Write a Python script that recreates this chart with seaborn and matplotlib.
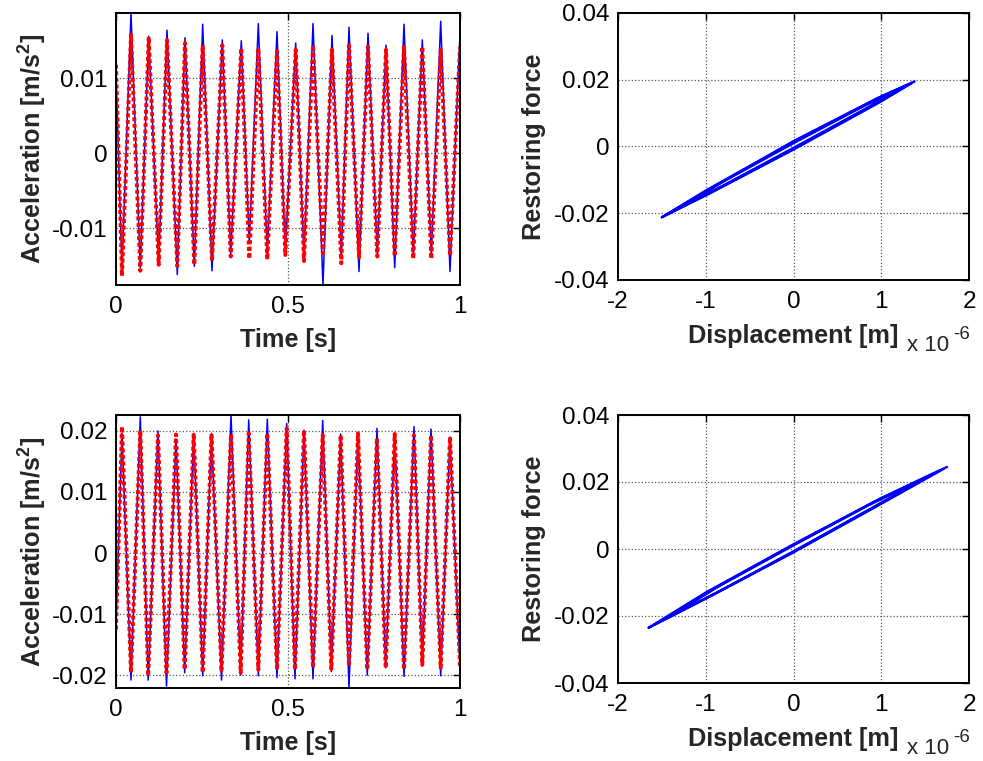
import numpy as np
import pandas as pd
import matplotlib
matplotlib.use("Agg")
import matplotlib.pyplot as plt
import seaborn as sns
from matplotlib.ticker import FuncFormatter

# ---------------- record 1: acceleration extrema ----------------
t1 = [0.0, 0.0174, 0.0436, 0.0706, 0.0951, 0.1241, 0.1483, 0.1782, 0.2006, 0.2276,
      0.2520, 0.2791, 0.3090, 0.3334, 0.3642, 0.3875, 0.4137, 0.4398, 0.4680, 0.4922,
      0.5224, 0.5465, 0.5727, 0.6017, 0.6279, 0.6549, 0.6773, 0.7064, 0.7326, 0.7596,
      0.7849, 0.8102, 0.8372, 0.8642, 0.8904, 0.9166, 0.9439, 0.9709, 1.0]
acc1_measured = [0.0110, -0.0157, 0.0187, -0.0153, 0.0156, -0.0147, 0.0164, -0.0162, 0.0154, -0.0151,
                 0.0172, -0.0157, 0.0151, -0.0135, 0.0150, -0.0120, 0.0173, -0.0135, 0.0162, -0.0133,
                 0.0147, -0.0140, 0.0173, -0.0176, 0.0157, -0.0140, 0.0168, -0.0158, 0.0160, -0.0135,
                 0.0144, -0.0153, 0.0172, -0.0138, 0.0151, -0.0135, 0.0176, -0.0158, 0.0160]
acc1_model = [0.0118, -0.0164, 0.0158, -0.0157, 0.0155, -0.0149, 0.0151, -0.0151, 0.0147, -0.0149,
              0.0144, -0.0144, 0.0144, -0.0138, 0.0140, -0.0141, 0.0140, -0.0142, 0.0136, -0.0136,
              0.0138, -0.0144, 0.0144, -0.0138, 0.0138, -0.0147, 0.0144, -0.0139, 0.0142, -0.0138,
              0.0138, -0.0138, 0.0142, -0.0141, 0.0142, -0.0141, 0.0138, -0.0137, 0.0142]

# ---------------- record 2: acceleration extrema ----------------
t2 = [0.0, 0.0174, 0.0436, 0.0706, 0.0936, 0.1221, 0.1468, 0.1744, 0.1997, 0.2259,
      0.2520, 0.2776, 0.3067, 0.3343, 0.3625, 0.3858, 0.4137, 0.4398, 0.4680, 0.4962,
      0.5203, 0.5465, 0.5727, 0.6009, 0.6259, 0.6532, 0.6773, 0.7035, 0.7305, 0.7587,
      0.7840, 0.8102, 0.8372, 0.8663, 0.8904, 0.9157, 0.9439, 0.9709, 1.0]
acc2_measured = [-0.0120, 0.0196, -0.0208, 0.0223, -0.0208, 0.0200, -0.0218, 0.0187, -0.0196, 0.0196,
                 -0.0201, 0.0196, -0.0208, 0.0226, -0.0200, 0.0218, -0.0201, 0.0219, -0.0204, 0.0212,
                 -0.0206, 0.0201, -0.0206, 0.0217, -0.0194, 0.0195, -0.0221, 0.0196, -0.0200, 0.0204,
                 -0.0188, 0.0196, -0.0202, 0.0207, -0.0185, 0.0203, -0.0201, 0.0190, -0.0190]
acc2_model = [-0.0125, 0.0207, -0.0196, 0.0201, -0.0201, 0.0193, -0.0196, 0.0194, -0.0191, 0.0196,
              -0.0196, 0.0195, -0.0194, 0.0195, -0.0196, 0.0196, -0.0191, 0.0196, -0.0191, 0.0204,
              -0.0191, 0.0201, -0.0188, 0.0193, -0.0190, 0.0193, -0.0185, 0.0196, -0.0191, 0.0188,
              -0.0188, 0.0195, -0.0191, 0.0193, -0.0183, 0.0193, -0.0188, 0.0190, -0.0185]

# ---------------- hysteresis loops (displacement in 1e-6 m) ----------------
loops1_disp = [
    [-1.50, -1.00, 0.00, 1.00, 1.38, 1.00, 0.00, -1.00, -1.50],
    [-1.46, -0.95, 0.00, 0.95, 1.35, 0.95, 0.00, -0.95, -1.46],
    [-1.42, -0.90, 0.00, 0.90, 1.32, 0.90, 0.00, -0.90, -1.42],
    [-1.30, -0.80, 0.00, 0.80, 1.24, 0.80, 0.00, -0.80, -1.30],
]
loops1_force = [
    [-0.0212, -0.0132, 0.0015, 0.0150, 0.0195, 0.0136, -0.0008, -0.0146, -0.0212],
    [-0.0206, -0.0127, 0.0016, 0.0144, 0.0191, 0.0128, -0.0009, -0.0140, -0.0206],
    [-0.0201, -0.0119, 0.0012, 0.0136, 0.0187, 0.0124, -0.0006, -0.0131, -0.0201],
    [-0.0184, -0.0105, 0.0010, 0.0121, 0.0176, 0.0110, -0.0004, -0.0117, -0.0184],
]
loops2_disp = [
    [-1.65, -1.00, 0.00, 1.00, 1.75, 1.00, 0.00, -1.00, -1.65],
    [-1.58, -0.95, 0.00, 0.95, 1.68, 0.95, 0.00, -0.95, -1.58],
    [-1.50, -0.90, 0.00, 0.90, 1.60, 0.90, 0.00, -0.90, -1.50],
    [-1.42, -0.85, 0.00, 0.85, 1.52, 0.85, 0.00, -0.85, -1.42],
]
loops2_force = [
    [-0.0235, -0.0130, 0.0014, 0.0152, 0.0245, 0.0135, -0.0010, -0.0148, -0.0235],
    [-0.0225, -0.0124, 0.0013, 0.0145, 0.0236, 0.0129, -0.0009, -0.0141, -0.0225],
    [-0.0214, -0.0118, 0.0012, 0.0138, 0.0226, 0.0123, -0.0008, -0.0134, -0.0214],
    [-0.0203, -0.0111, 0.0011, 0.0130, 0.0214, 0.0116, -0.0007, -0.0127, -0.0203],
]

sns.set_style("white")
plt.rcParams["font.family"] = ["Liberation Sans", "DejaVu Sans"]
plt.rcParams["mathtext.fontset"] = "custom"
plt.rcParams["mathtext.rm"] = "Liberation Sans"
plt.rcParams["mathtext.bf"] = "Liberation Sans:bold"
plt.rcParams["axes.unicode_minus"] = False

W, H = 983, 761
fig = plt.figure(figsize=(W / 100, H / 100), dpi=100)


def rect(x0, y0, x1, y1):
    return [x0 / W, 1 - y1 / H, (x1 - x0) / W, (y1 - y0) / H]


ax_a1 = fig.add_axes(rect(116, 13, 460, 285))
ax_h1 = fig.add_axes(rect(618, 13, 969, 280))
ax_a2 = fig.add_axes(rect(116, 415, 460, 688))
ax_h2 = fig.add_axes(rect(618, 415, 969, 683))

TICK_FS = 17.5
LABEL_FS = 18.2
fmt = FuncFormatter(lambda v, p: f"{v:g}")


def style_axes(ax):
    ax.set_axisbelow(True)
    ax.grid(True, linestyle=":", color="0.35", linewidth=0.9)
    ax.tick_params(direction="in", top=True, right=True, length=5, width=1.0,
                   labelsize=TICK_FS, colors="black")
    ax.tick_params(axis="x", pad=8)
    ax.tick_params(axis="y", pad=6)
    for s in ax.spines.values():
        s.set_linewidth(1.4)
        s.set_color("black")
        s.set_visible(True)
    ax.xaxis.set_major_formatter(fmt)
    ax.yaxis.set_major_formatter(fmt)


def draw_acc(ax, t, meas, model, yticks):
    df = pd.DataFrame({"t": t, "measured": meas, "model": model})
    sns.lineplot(data=df, x="t", y="measured", ax=ax, color=(0, 0, 1), linewidth=1.1,
                 sort=False, estimator=None)
    sns.lineplot(data=df, x="t", y="model", ax=ax, color=(1, 0, 0), linewidth=2.8,
                 sort=False, estimator=None)
    ln = ax.lines[-1]
    ln.set_dashes((1.0, 0.7))
    ln.set_dash_capstyle("butt")
    ax.set_xlim(0, 1)
    ax.set_ylim(min(meas), max(meas))
    ax.set_xticks([0, 0.5, 1])
    ax.set_yticks(yticks)
    style_axes(ax)
    ax.set_xlabel("Time [s]", fontsize=LABEL_FS, fontweight="bold", labelpad=7)
    ax.set_ylabel(r"Acceleration [m/s$^{\mathbf{2}}$]", fontsize=LABEL_FS,
                  fontweight="bold", labelpad=2)


def draw_loops(ax, disp, force):
    rows = []
    for k, (d, f) in enumerate(zip(disp, force)):
        for i, (dv, fv) in enumerate(zip(d, f)):
            rows.append({"loop": k, "order": i, "disp": dv, "force": fv})
    df = pd.DataFrame(rows)
    sns.lineplot(data=df, x="disp", y="force", units="loop", estimator=None,
                 sort=False, ax=ax, color=(0, 0, 1), linewidth=1.7)
    ax.set_xlim(-2, 2)
    ax.set_ylim(-0.04, 0.04)
    ax.set_xticks([-2, -1, 0, 1, 2])
    ax.set_yticks([-0.04, -0.02, 0, 0.02, 0.04])
    style_axes(ax)
    ax.set_xlabel("Displacement [m]", fontsize=LABEL_FS, fontweight="bold", labelpad=8)
    ax.set_ylabel("Restoring force", fontsize=LABEL_FS, fontweight="bold", labelpad=6)
    ax.text(0.823, -0.245, "x 10", transform=ax.transAxes, fontsize=TICK_FS - 1.5,
            ha="left", va="center")
    ax.text(0.955, -0.203, "-6", transform=ax.transAxes, fontsize=TICK_FS - 4,
            ha="left", va="center")


draw_acc(ax_a1, t1, acc1_measured, acc1_model, [-0.01, 0, 0.01])
draw_acc(ax_a2, t2, acc2_measured, acc2_model, [-0.02, -0.01, 0, 0.01, 0.02])
draw_loops(ax_h1, loops1_disp, loops1_force)
draw_loops(ax_h2, loops2_disp, loops2_force)

fig.savefig("out.png", dpi=100, facecolor="white")
